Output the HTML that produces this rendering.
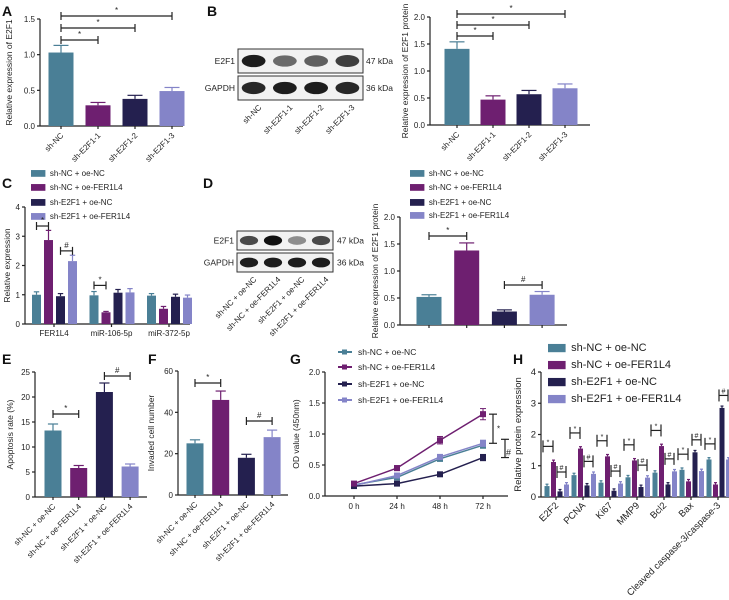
<!DOCTYPE html>
<html><head><meta charset="utf-8"><style>
body{margin:0;background:#fff}
svg{display:block;font-family:"Liberation Sans",Arial,sans-serif}
</style></head><body>
<svg id="fig" width="729" height="600" viewBox="0 0 729 600" xmlns="http://www.w3.org/2000/svg"></svg>
<script>
// ---- data ----
const colors=["#4a7f96","#6e1f70","#24204f","#8484c8"];
const groupNames=["sh-NC + oe-NC","sh-NC + oe-FER1L4","sh-E2F1 + oe-NC","sh-E2F1 + oe-FER1L4"];
const aCats=["sh-NC","sh-E2F1-1","sh-E2F1-2","sh-E2F1-3"];
const aVals=[1.03,0.29,0.38,0.49];
const aErr=[0.1,0.04,0.05,0.05];
const bVals=[1.41,0.47,0.57,0.68];
const bErr=[0.13,0.07,0.07,0.08];
const cCats=["FER1L4","miR-106-5p","miR-372-5p"];
const cVals=[[1.0,2.87,0.95,2.15],[0.98,0.4,1.07,1.08],[0.97,0.52,0.93,0.9]];
const cErr=[[0.1,0.33,0.09,0.2],[0.13,0.03,0.11,0.13],[0.07,0.08,0.09,0.09]];
const dVals=[0.52,1.38,0.25,0.56];
const dErr=[0.04,0.14,0.03,0.06];
const eVals=[13.3,5.8,21.0,6.1];
const eErr=[1.3,0.5,1.8,0.5];
const fVals=[25,46,18,28];
const fErr=[1.7,4.3,1.7,3.4];
const gTimes=["0 h","24 h","48 h","72 h"];
const gVals=[[0.18,0.3,0.6,0.82],[0.2,0.45,0.9,1.32],[0.16,0.2,0.35,0.62],[0.17,0.33,0.63,0.85]];
const gErr=[[0.02,0.03,0.04,0.05],[0.02,0.04,0.06,0.09],[0.02,0.02,0.03,0.05],[0.02,0.03,0.04,0.05]];
const hCats=["E2F2","PCNA","Ki67","MMP9","Bcl2","Bax","Cleaved caspase-3/caspase-3"];
const hVals=[[0.35,1.12,0.18,0.4],[0.7,1.55,0.37,0.74],[0.46,1.3,0.2,0.43],[0.63,1.17,0.32,0.62],[0.78,1.63,0.4,0.82],[0.87,0.5,1.43,0.83],[1.2,0.4,2.85,1.2]];

const NS="http://www.w3.org/2000/svg";
const svg=document.getElementById('fig');
function el(tag,attrs,parent,text){const e=document.createElementNS(NS,tag);for(const k in attrs)e.setAttribute(k,attrs[k]);if(text!==undefined)e.textContent=text;(parent||svg).appendChild(e);return e;}
function grp(name){const g=el('g',{});return g;}
function txt(g,x,y,s,opt){opt=opt||{};const t=el('text',{x:x,y:y,'font-size':opt.fs||8,fill:opt.fill||'#222','text-anchor':opt.anchor||'start','font-weight':opt.bold?'bold':'normal'},g,s);if(opt.rot!==undefined)t.setAttribute('transform','rotate('+opt.rot+' '+x+' '+y+')');return t;}
function line(g,x1,y1,x2,y2,c,w){return el('line',{x1:x1,y1:y1,x2:x2,y2:y2,stroke:c||'#222','stroke-width':w||1.2},g);}
function letter(s,x,y){const g=grp('panel-label-'+s.toLowerCase());txt(g,x,y,s,{fs:14,bold:true,fill:'#111'});}
function yAxis(g,ax,y0,yTop,max,step,dec,title,toff,fs){
  const sc=v=>y0-(v/max)*(y0-yTop);
  line(g,ax,y0,ax,yTop);
  for(let v=0;v<=max+1e-9;v+=step){const y=sc(v);line(g,ax-3,y,ax,y);txt(g,ax-5,y+3,v.toFixed(dec),{anchor:'end',fs:fs||8});}
  const t=txt(g,ax-toff,(y0+yTop)/2,title,{anchor:'middle',rot:-90,fs:fs||8.5});
  
  return sc;
}
function bracket(g,x1,x2,y,s){line(g,x1,y,x2,y);line(g,x1,y-4,x1,y+4);line(g,x2,y-4,x2,y+4);txt(g,(x1+x2)/2,y-3,s,{anchor:'middle',fs:8});}
function bar(g,cx,w,v,err,sc,y0,color,name){
  const r=el('rect',{x:cx-w/2,y:sc(v),width:w,height:y0-sc(v),fill:color},g);
  
  if(err){const ye=sc(v+err);line(g,cx,sc(v),cx,ye,color,1.2);line(g,cx-w*0.3,ye,cx+w*0.3,ye,color,1.2);}
}
function simpleBars(name,ax,axEnd,y0,yTop,max,step,dec,title,toff,vals,errs,first,stepX,w,cats,brs){
  const g=grp(name);
  const sc=yAxis(g,ax,y0,yTop,max,step,dec,title,toff);
  line(g,ax,y0,axEnd,y0);
  const cxs=vals.map((v,i)=>first+i*stepX);
  vals.forEach((v,i)=>{bar(g,cxs[i],w,v,errs[i],sc,y0,colors[i],name+'-bar-'+(i+1));line(g,cxs[i],y0,cxs[i],y0+3);
    txt(g,cxs[i]+3,y0+10,cats[i],{anchor:'end',rot:-45,fs:8});});
  (brs||[]).forEach(b=>bracket(g,cxs[b[0]],cxs[b[1]],b[2],b[3]));
  return g;
}
function blot(name,x,y,w,rowH,gap,intens,labels,lx,kx){
  const g=grp(name);
  labels.forEach((lab,r)=>{
    const ry=y+r*(rowH+gap);
    el('rect',{x:x,y:ry,width:w,height:rowH,fill:'#f2f2f2',stroke:'#333','stroke-width':1},g);
    txt(g,lx,ry+rowH/2+3,lab[0],{fs:8.5,anchor:'end'});
    txt(g,kx,ry+rowH/2+3,lab[1],{fs:8.5});
    intens[r].forEach((a,i)=>{const cx=x+w*(i+0.5)/intens[r].length;
      el('ellipse',{cx:cx,cy:ry+rowH/2,rx:w/intens[r].length*0.38,ry:rowH*0.2+a*rowH*0.06,fill:'#111','fill-opacity':a},g);});
  });
  return g;
}
function legendBox(name,x,ys,fs,sw){
  const g=grp(name);
  groupNames.forEach((n,i)=>{const e=el('g',{},g);
    el('rect',{x:x,y:ys[i]-sw*0.55,width:sw*1.6,height:sw*0.75,fill:colors[i]},e);txt(e,x+sw*2.1,ys[i]+fs*0.1,n,{fs:fs});});
}

// ---- A ----
letter('A',2,16);
simpleBars('panel-a-chart',40,183,126,19,1.5,0.5,1,'Relative expression of E2F1',28,aVals,aErr,61,37,25,aCats,[[0,1,40,'*'],[0,2,28,'*'],[0,3,16,'*']]);
// ---- B ----
letter('B',207,16);
blot('panel-b-blot',238,49,125,24,3,[[0.95,0.6,0.65,0.8],[0.9,0.95,0.95,0.9]],[['E2F1','47 kDa'],['GAPDH','36 kDa']],235,366);
{const g=grp('panel-b-blot-labels');aCats.forEach((c,i)=>txt(g,258+i*31+4,108,c,{anchor:'end',rot:-45,fs:8}));}
simpleBars('panel-b-chart',430,590,125,17,2.0,0.5,1,'Relative expression of E2F1 protein',22,bVals,bErr,457,36,25,aCats,[[0,1,36,'*'],[0,2,25,'*'],[0,3,14,'*']]);
// ---- C ----
letter('C',2,188);
legendBox('panel-c-legend',31,[175,189,204,218],8,9);
{const g=grp('panel-c-chart');const ax=25,y0=324,yTop=207;
 const sc=yAxis(g,ax,y0,yTop,4,1,0,'Relative expression',15);line(g,ax,y0,190,y0);
 cCats.forEach((c,gi)=>{const base=32+gi*57.5;cVals[gi].forEach((v,i)=>bar(g,base+4.5+i*12,9,v,cErr[gi][i],sc,y0,colors[i],'bar-'+c+'-'+(i+1)));
   line(g,base+22,y0,base+22,y0+3);txt(g,base+22,y0+12,c,{anchor:'middle',fs:8});});
 bracket(g,36.5,48.5,sc(3.35),'*');bracket(g,60.5,72.5,sc(2.5),'#');bracket(g,94,106,sc(1.32),'*');}
// ---- D ----
letter('D',203,188);
blot('panel-d-blot',237,231,96,19,3,[[0.75,1,0.45,0.75],[0.95,0.95,0.95,0.95]],[['E2F1','47 kDa'],['GAPDH','36 kDa']],234,337);
{const g=grp('panel-d-blot-labels');groupNames.forEach((c,i)=>txt(g,253+i*24+4,280,c,{anchor:'end',rot:-45,fs:8}));}
legendBox('panel-d-legend',410,[175,189,204,217],8,9);
simpleBars('panel-d-chart',400,567,325,217,2.0,0.5,1,'Relative expression of E2F1 protein',22,dVals,dErr,429,37.7,25,['','','',''],[[0,1,236,'*'],[2,3,285,'#']]);
// ---- E ----
letter('E',2,364);
simpleBars('panel-e-chart',35,147,497,372,25,5,0,'Apoptosis rate (%)',22,eVals,eErr,53,25.7,17,groupNames,[[0,1,414,'*'],[2,3,376,'#']]);
// ---- F ----
letter('F',148,364);
simpleBars('panel-f-chart',178,288,495,371,60,20,0,'Invaded cell number',24,fVals,fErr,195,25.7,17,groupNames,[[0,1,383,'*'],[2,3,421,'#']]);
// ---- G ----
letter('G',290,364);
{const g=grp('panel-g-legend');groupNames.forEach((n,i)=>{const e=el('g',{},g);
  const y=[352,367,384,400][i];line(e,338,y,352,y,colors[i],2);el('rect',{x:342,y:y-2.5,width:5,height:5,fill:colors[i]},e);txt(e,358,y+3,n,{fs:8.5});});}
{const g=grp('panel-g-chart');const ax=325,y0=496,yTop=372;
 const sc=yAxis(g,ax,y0,yTop,2,0.5,1,'OD value (450nm)',26);line(g,ax,y0,508,y0);
 const xs=i=>354+i*43;
 gTimes.forEach((t,i)=>{line(g,xs(i),y0,xs(i),y0+3);txt(g,xs(i),y0+13,t,{anchor:'middle',fs:8});});
 [0,3,2,1].forEach(s=>{const pts=gVals[s].map((v,i)=>xs(i)+','+sc(v)).join(' ');
   const p=el('polyline',{points:pts,fill:'none',stroke:colors[s],'stroke-width':1.5},g);
   gVals[s].forEach((v,i)=>{const ye=sc(v+gErr[s][i]),yl=sc(v-gErr[s][i]);line(g,xs(i),ye,xs(i),yl,colors[s],1);line(g,xs(i)-3,ye,xs(i)+3,ye,colors[s],1);line(g,xs(i)-3,yl,xs(i)+3,yl,colors[s],1);
     el('rect',{x:xs(i)-3,y:sc(v)-3,width:6,height:6,fill:colors[s]},g);});});
 const yA=sc(gVals[1][3]),yB=sc(gVals[3][3]),yC=sc(gVals[2][3]);
 line(g,493,yA,493,yB);line(g,489,yA,497,yA);line(g,489,yB,497,yB);txt(g,497,(yA+yB)/2+3,'*',{fs:8});
 line(g,505,yB-4,505,yC);line(g,501,yB-4,509,yB-4);line(g,501,yC,509,yC);txt(g,506,(yB+yC)/2+5,'#',{fs:9});}
// ---- H ----
letter('H',513,364);
legendBox('panel-h-legend',548,[350,367,384,401],11,11);
{const g=grp('panel-h-chart');const ax=541,y0=497,yTop=372;
 const sc=yAxis(g,ax,y0,yTop,4,1,0,'Relative protein expression',20,9.5);line(g,ax,y0,729,y0);
 hCats.forEach((c,gi)=>{const base=544+gi*27;
   hVals[gi].forEach((v,i)=>bar(g,base+3+i*6.5,5,v,0.06,sc,y0,colors[i],'bar-'+c+'-'+(i+1)));
   line(g,base+12,y0,base+12,y0+3);txt(g,base+15,y0+9,c,{anchor:'end',rot:-45,fs:9.5});
   const m1=Math.max(hVals[gi][0],hVals[gi][1]),m2=Math.max(hVals[gi][2],hVals[gi][3]);
   const hb=(x1,x2,y,s)=>{line(g,x1,y-6,x1,y+6);line(g,x2,y-6,x2,y+6);line(g,x1,y,x2,y);txt(g,(x1+x2)/2,y-2,s,{anchor:'middle',fs:7});};
   hb(base-1,base+9,sc(m1+0.5),'*');hb(base+13,base+22,sc(m2+0.4),'#');});}
</script>
</body></html>
